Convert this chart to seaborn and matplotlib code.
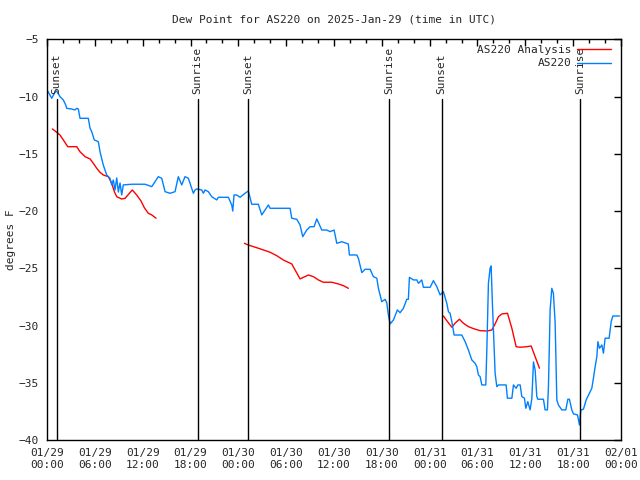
import numpy as np
import pandas as pd
import matplotlib
matplotlib.use("Agg")
import matplotlib.pyplot as plt
from matplotlib.lines import Line2D
import seaborn as sns

# Observed dew point (hours since 2025-01-29 00:00 UTC, degrees F)
obs_hours = [0.09, 0.59, 1.0, 1.22, 1.63, 2.05, 2.35, 2.47, 3.10, 3.51, 3.73, 3.93, 4.14, 5.18, 5.40,
             5.61, 5.93, 6.44, 6.65, 7.06, 7.49, 7.90, 8.12, 8.32, 8.53, 8.75, 8.95, 9.16, 9.37, 9.57,
             10.63, 12.30, 13.14, 13.96, 14.39, 14.81, 15.43, 16.06, 16.47, 16.90, 17.31, 17.73, 18.36,
             18.57, 18.78, 19.41, 19.61, 19.82, 20.24, 20.67, 21.29, 21.49, 22.75, 23.17, 23.30, 23.46,
             23.80, 24.22, 24.84, 25.26, 25.68, 26.51, 26.94, 27.77, 27.98, 30.49, 30.70, 31.33, 31.74,
             32.08, 32.58, 33.00, 33.50, 33.84, 34.47, 35.09, 35.51, 36.01, 36.35, 36.98, 37.80, 37.93,
             38.86, 39.06, 39.49, 39.90, 40.53, 40.94, 41.37, 41.57, 41.99, 42.41, 42.62, 42.82, 43.04,
             43.45, 43.95, 44.29, 44.71, 45.13, 45.33, 45.46, 45.96, 46.39, 46.59, 47.01, 47.21, 48.06,
             48.47, 48.90, 49.31, 49.72, 50.15, 50.35, 50.56, 50.78, 51.07, 52.03, 52.45, 52.86, 53.29,
             53.70, 53.91, 54.12, 54.33, 54.54, 55.04, 55.17, 55.37, 55.58, 55.71, 55.87, 56.21, 56.42,
             56.63, 57.59, 57.75, 58.31, 58.51, 58.85, 59.06, 59.35, 59.56, 59.89, 60.06, 60.31, 60.60,
             60.82, 61.02, 61.23, 61.44, 61.57, 62.27, 62.48, 62.77, 62.90, 63.11, 63.32, 63.52, 63.74,
             63.95, 64.15, 64.58, 65.08, 65.33, 65.53, 65.83, 66.04, 66.54, 66.79, 66.96, 67.29, 67.63,
             68.04, 68.34, 68.54, 68.76, 68.97, 69.10, 69.30, 69.60, 69.80, 70.01, 70.51, 70.77, 70.98,
             71.81]
obs_vals = [-9.52, -10.15, -9.63, -9.52, -10.01, -10.30, -10.74, -11.03, -11.09, -11.17, -11.03, -11.09,
            -11.90, -11.90, -12.77, -13.07, -13.79, -13.94, -14.82, -15.98, -16.85, -17.14, -17.72,
            -17.29, -18.16, -17.11, -18.34, -17.55, -18.60, -17.72, -17.66, -17.66, -17.87, -17.00,
            -17.14, -18.31, -18.45, -18.31, -17.00, -17.72, -17.00, -17.14, -18.45, -18.16, -18.07,
            -18.16, -18.45, -18.16, -18.31, -18.75, -19.03, -18.80, -18.80, -19.47, -20.00, -18.60,
            -18.60, -18.80, -18.45, -18.25, -19.41, -19.41, -20.34, -19.47, -19.76, -19.76, -20.63,
            -20.72, -21.22, -22.24, -21.66, -21.37, -21.37, -20.69, -21.66, -21.66, -21.80, -21.66,
            -22.82, -22.68, -22.88, -23.84, -23.84, -24.13, -25.38, -25.09, -25.09, -25.73, -25.87,
            -26.75, -27.92, -27.71, -28.00, -29.08, -29.86, -29.52, -28.64, -28.88, -28.49, -27.71,
            -27.71, -25.79, -26.02, -26.02, -26.31, -26.02, -26.66, -26.66, -26.08, -26.61, -27.33,
            -27.04, -28.06, -28.79, -28.93, -29.66, -30.83, -30.83, -31.41, -32.14, -33.01, -33.30,
            -33.59, -34.32, -34.47, -35.19, -35.19, -32.14, -26.31, -25.00, -24.80, -28.06, -34.17,
            -35.34, -35.19, -35.19, -36.35, -36.35, -35.19, -35.48, -35.19, -35.19, -36.21, -36.35,
            -37.23, -36.65, -37.37, -36.35, -33.18, -33.88, -36.21, -36.44, -36.44, -37.37, -37.37,
            -35.34, -28.64, -26.75, -27.18, -29.80, -36.50, -36.94, -37.37, -37.37, -36.44, -36.44,
            -37.37, -37.72, -37.81, -38.69, -37.37, -37.31, -36.50, -35.92, -35.48, -34.61, -33.59,
            -32.72, -31.41, -31.99, -31.70, -32.42, -31.11, -31.11, -29.66, -29.17, -29.17]

# Analysis dew point, three separate runs
ana1_hours = [0.67, 1.22, 1.63, 2.05, 2.60, 3.73, 4.14, 4.77, 5.40, 5.81, 6.24, 6.65, 7.06, 7.69, 8.12,
              8.45, 8.75, 9.37, 9.79, 10.70, 11.25, 11.79, 12.21, 12.71, 13.14, 13.68]
ana1_vals = [-12.83, -13.12, -13.36, -13.79, -14.38, -14.38, -14.82, -15.25, -15.45, -15.83, -16.27,
             -16.62, -16.85, -17.00, -17.58, -18.31, -18.75, -18.95, -18.89, -18.16, -18.60, -19.12,
             -19.71, -20.20, -20.34, -20.63]
ana2_hours = [24.76, 25.26, 25.88, 26.51, 27.14, 27.98, 28.82, 29.65, 30.70, 31.24, 31.74, 32.16, 32.79,
              33.41, 34.04, 34.67, 35.72, 36.55, 37.18, 37.80]
ana2_vals = [-22.82, -22.97, -23.11, -23.25, -23.40, -23.60, -23.90, -24.28, -24.62, -25.30, -25.93,
             -25.79, -25.59, -25.73, -26.02, -26.22, -26.22, -26.37, -26.52, -26.75]
ana3_hours = [49.72, 50.15, 50.78, 51.19, 51.73, 52.23, 52.86, 53.49, 54.33, 55.17, 55.80, 56.21, 56.63,
              57.05, 57.76, 58.31, 58.85, 59.35, 60.19, 60.73, 61.23, 61.77]
ana3_vals = [-29.17, -29.58, -30.15, -29.80, -29.45, -29.80, -30.10, -30.27, -30.45, -30.48, -30.39,
             -29.86, -29.23, -28.99, -28.93, -30.24, -31.85, -31.90, -31.85, -31.79, -32.72, -33.73]

sun_hours = [1.22, 18.9, 25.26, 42.9, 49.5, 66.9]
sun_labels = ["Sunset", "Sunrise", "Sunset", "Sunrise", "Sunset", "Sunrise"]

xtick_hours = [0, 6, 12, 18, 24, 30, 36, 42, 48, 54, 60, 66, 72]
xtick_labels = ["01/29\n00:00", "01/29\n06:00", "01/29\n12:00", "01/29\n18:00",
                "01/30\n00:00", "01/30\n06:00", "01/30\n12:00", "01/30\n18:00",
                "01/31\n00:00", "01/31\n06:00", "01/31\n12:00", "01/31\n18:00",
                "02/01\n00:00"]
yticks = [-40, -35, -30, -25, -20, -15, -10, -5]

obs_df = pd.DataFrame({"hour": obs_hours, "dewpoint": obs_vals})
ana_df = pd.concat([
    pd.DataFrame({"hour": ana1_hours, "dewpoint": ana1_vals, "run": 1}),
    pd.DataFrame({"hour": ana2_hours, "dewpoint": ana2_vals, "run": 2}),
    pd.DataFrame({"hour": ana3_hours, "dewpoint": ana3_vals, "run": 3}),
])

red = "#ff0000"
blue = "#0080ff"

sns.set_style("white")
plt.rcParams["font.family"] = ["DejaVu Sans Mono", "DejaVu Sans"]
plt.rcParams["font.size"] = 8

fig = plt.figure(figsize=(6.4, 4.8), dpi=100)
ax = fig.add_axes([47 / 640, 40 / 480, 574 / 640, 400.7 / 480])

sns.lineplot(data=ana_df, x="hour", y="dewpoint", units="run", estimator=None,
             color=red, linewidth=1.0, ax=ax, legend=False)
sns.lineplot(data=obs_df, x="hour", y="dewpoint", estimator=None,
             color=blue, linewidth=1.0, ax=ax, legend=False)

# sunrise / sunset markers
for h, lab in zip(sun_hours, sun_labels):
    ax.plot([h, h], [-40, -10.2], color="black", linewidth=1.0)
    ax.text(h, -9.75, lab, rotation=90, ha="center", va="bottom", fontsize=8)

ax.set_xlim(0, 72)
ax.set_ylim(-40, -5)
ax.set_xticks(xtick_hours)
ax.set_xticklabels(xtick_labels)
ax.set_xticks(np.arange(0, 73, 2), minor=True)
ax.set_yticks(yticks)
ax.tick_params(axis="both", which="both", direction="in", top=True, right=True, color="black")
ax.tick_params(axis="both", which="major", length=5, width=1, labelsize=8, pad=6)
ax.tick_params(axis="x", which="minor", length=3, width=1)
for s in ax.spines.values():
    s.set_color("black")
    s.set_linewidth(1.0)

ax.set_xlabel("")
ax.set_ylabel("degrees F", fontsize=8, labelpad=2)
ax.set_title("Dew Point for AS220 on 2025-Jan-29 (time in UTC)", fontsize=8, pad=12)

handles = [Line2D([], [], color=red, linewidth=1.0), Line2D([], [], color=blue, linewidth=1.0)]
ax.legend(handles, ["AS220 Analysis", "AS220"], loc="upper right", frameon=False,
          bbox_to_anchor=(0.982, 0.987), markerfirst=False, fontsize=8,
          handlelength=3.0, handletextpad=0.5, borderaxespad=0.0,
          labelspacing=0.35, borderpad=0.0)

fig.savefig("out.png", dpi=100)
